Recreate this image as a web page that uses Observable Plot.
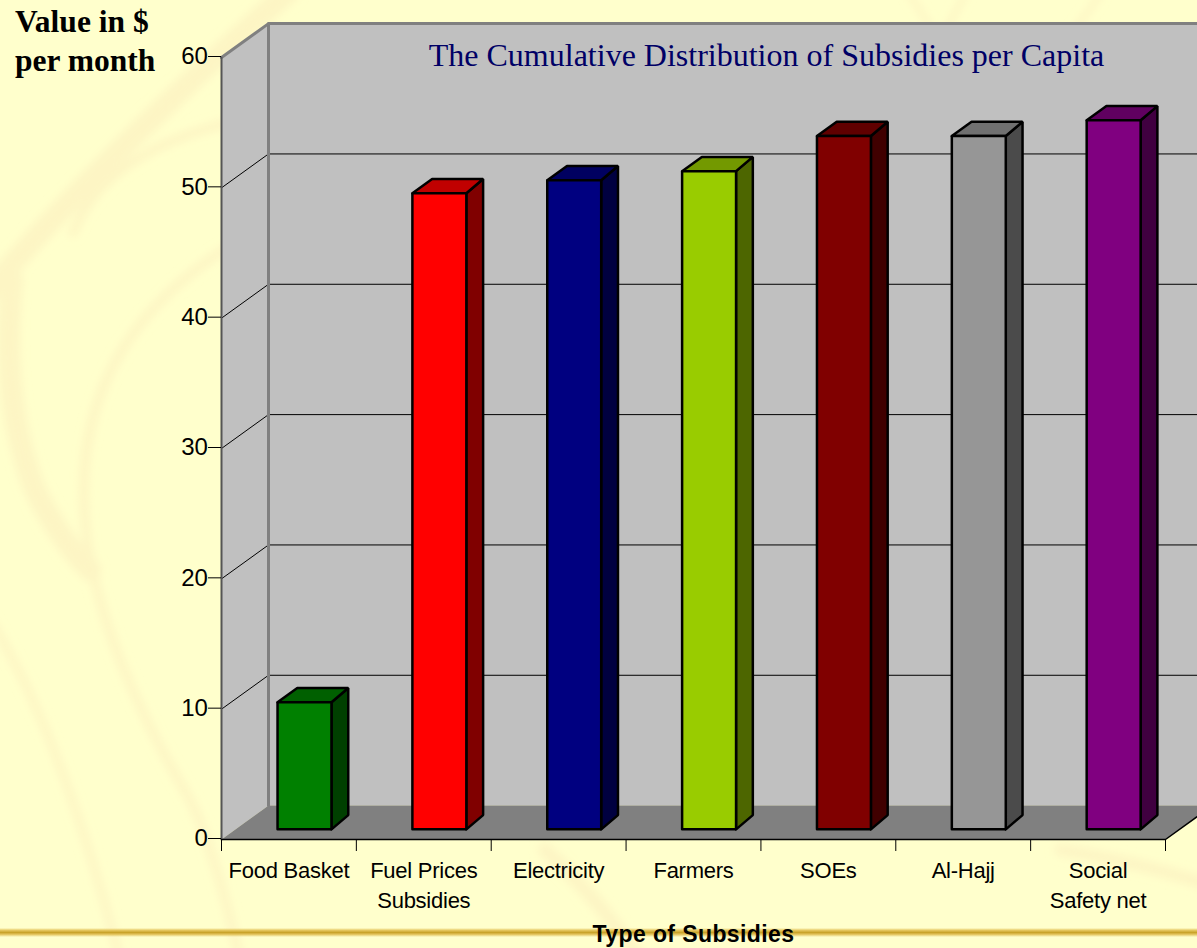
<!DOCTYPE html>
<html>
<head>
<meta charset="utf-8">
<title>The Cumulative Distribution of Subsidies per Capita</title>
<script src="https://cdn.jsdelivr.net/npm/d3@7"></script>
<script src="https://cdn.jsdelivr.net/npm/@observablehq/plot@0.6"></script>
<style>
  html, body { margin: 0; padding: 0; width: 1197px; height: 948px; overflow: hidden; background: #ffffcc; }
  #slide, #rule, #chart { position: absolute; left: 0; top: 0; }
  #rule { top: 928px; width: 1197px; height: 9px;
    background: linear-gradient(to bottom, rgba(220,180,60,0) 0%, #e6c860 25%, #c9a32a 50%, #e2c25a 70%, rgba(220,180,60,0) 100%); }
  #chart svg { background: transparent; overflow: hidden; }
  .tight text { letter-spacing: -0.25px; }
  .wide text { letter-spacing: 0.4px; }
</style>
</head>
<body>
<!-- faint sweeping arcs of the slide backdrop -->
<svg id="slide" width="1197" height="948" fill="none" stroke="#fdf5c4" stroke-linecap="round">
  <defs><filter id="soft" x="-20%" y="-20%" width="140%" height="140%"><feGaussianBlur stdDeviation="4"/></filter></defs>
  <g filter="url(#soft)">
    <path stroke-width="22" d="M-10 290 Q90 170 290 -10"/>
    <path stroke-width="22" d="M12 280 Q0 400 35 490 Q60 540 90 570"/>
    <path stroke-width="9" d="M240 240 Q70 340 85 520 Q95 640 190 800 Q215 850 240 960"/>
    <path stroke-width="8" d="M-10 620 Q60 730 120 960"/>
    <path stroke-width="9" d="M73 233 Q105 150 240 120"/>
    <path stroke-width="6" d="M910 -5 L945 50"/>
    <path stroke-width="6" d="M965 -5 L935 50"/>
    <path stroke-width="6" d="M1100 -5 L1060 50"/>
    <path stroke-width="14" d="M640 960 Q600 900 545 850"/>
    <path stroke-width="12" d="M1210 885 Q1130 860 1060 850"/>
  </g>
</svg>
<div id="rule"></div>
<div id="chart"></div>
<script>
// Chart values, in dollars per month
const categories = ["Food Basket", "Fuel Prices\nSubsidies", "Electricity", "Farmers", "SOEs", "Al-Hajj", "Social\nSafety net"];
const values = [9.75, 48.8, 49.8, 50.5, 53.2, 53.2, 54.4];
const frontColors = ["#008000", "#ff0000", "#000080", "#99cc00", "#800000", "#969696", "#800080"];
const sideColors = ["#004000", "#800000", "#000040", "#4d6600", "#400000", "#4b4b4b", "#400040"];
const topColors = ["#006000", "#c00000", "#000060", "#739900", "#600000", "#707070", "#600060"];
const yTicks = [0, 10, 20, 30, 40, 50, 60];

// Oblique projection: moving back through the box shifts a point right and up, in data units
const depthX = 0.3485;
const depthY = 2.6;
const nCats = categories.length;
const yMax = 60;
const at = (u, v, d = 0) => ({x: u + d * depthX, y: v + d * depthY});

// Closed polygon as rows for a filled line mark
let faceId = 0;
function face(corners, fill) {
  const id = faceId++;
  return [...corners, corners[0]].map((p) => ({...p, z: id, fill}));
}

const wallFill = "#c0c0c0", floorFill = "#808080";
const boxFaces = [
  ...face([at(0, 0), at(0, 0, 1), at(0, yMax, 1), at(0, yMax)], wallFill),
  ...face([at(0, 0, 1), at(nCats, 0, 1), at(nCats, yMax, 1), at(0, yMax, 1)], wallFill),
  ...face([at(0, 0), at(0, 0, 1), at(nCats, 0, 1), at(nCats, 0)], floorFill)
];

const gridLines = yTicks.filter((t) => t > 0 && t < yMax).flatMap((t) =>
  [at(0, t), at(0, t, 1), at(nCats, t, 1)].map((p) => ({...p, z: t})));

// Each column sits partway into the box: side face, top face, then front face
const gapU = 0.311, widthU = 0.4, frontD = 0.3, backD = 0.72, backNarrow = 0.022;
const barFaces = values.flatMap((v, i) => {
  const l = i + gapU, r = l + widthU, rb = r - backNarrow;
  return [
    ...face([at(r, 0, frontD), at(rb, 0, backD), at(rb, v, backD), at(r, v, frontD)], sideColors[i]),
    ...face([at(l, v, frontD), at(r, v, frontD), at(rb, v, backD), at(l, v, backD)], topColors[i]),
    ...face([at(l, 0, frontD), at(r, 0, frontD), at(r, v, frontD), at(l, v, frontD)], frontColors[i])
  ];
});

const serif = "'Liberation Serif', 'Times New Roman', serif";
const sans = "'Liberation Sans', Arial, sans-serif";
const marginLeft = 221, marginTop = 57;

const chart = Plot.plot({
  width: 1197,
  height: 948,
  marginLeft,
  marginRight: 32,
  marginTop,
  marginBottom: 109,
  style: {background: "transparent"},
  x: {domain: [0, nCats], axis: null},
  y: {domain: [0, yMax], axis: null},
  color: {type: "identity"},
  marks: [
    Plot.line(boxFaces, {x: "x", y: "y", z: "z", fill: "fill", stroke: null}),
    Plot.line(gridLines, {x: "x", y: "y", z: "z", stroke: "#000", strokeWidth: 1}),
    // Box edges
    Plot.line([at(0, yMax), at(0, yMax, 1), at(nCats, yMax, 1)], {x: "x", y: "y", stroke: "#808080", strokeWidth: 3}),
    Plot.line([at(0, 0, 1), at(0, yMax, 1)], {x: "x", y: "y", stroke: "#808080", strokeWidth: 3}),
    Plot.line([at(0, 0), at(0, yMax)], {x: "x", y: "y", stroke: "#555", strokeWidth: 2}),
    Plot.line([at(0, 0), at(nCats, 0), at(nCats, 0, 1)], {x: "x", y: "y", stroke: "#000", strokeWidth: 1.5}),
    Plot.line(barFaces, {x: "x", y: "y", z: "z", fill: "fill", stroke: "#000", strokeWidth: 2.5, strokeLinejoin: "miter"}),
    // Axes
    Plot.axisY({ticks: yTicks, tickSize: 13, tickPadding: 1, fontSize: 24, dy: -1, fontFamily: sans, fill: "#000", stroke: "#000", label: null, className: "tight"}),
    Plot.axisX({ticks: d3.range(nCats + 1), tickSize: 12, tickFormat: () => "", label: null, stroke: "#000"}),
    Plot.text(categories, {x: (d, i) => i + 0.5, y: 0, dy: 17, text: (d) => d, lineAnchor: "top", lineHeight: 1.36, fontSize: 22, fontFamily: sans, fill: "#000", className: "tight"}),
    Plot.text(["Type of Subsidies"], {x: nCats / 2, y: 0, dy: 95.5, fontSize: 23, fontWeight: "bold", fontFamily: sans, fill: "#000", className: "wide"}),
    // Title and unit note
    Plot.text(["The Cumulative Distribution of Subsidies per Capita"], {frameAnchor: "top-left", dx: 766 - marginLeft, dy: 55 - marginTop, textAnchor: "middle", lineAnchor: "middle", fontSize: 32, fontFamily: serif, fill: "#000066"}),
    Plot.text(["Value in $\nper month"], {frameAnchor: "top-left", dx: 14.5 - marginLeft, dy: 4 - marginTop, textAnchor: "start", lineAnchor: "top", lineHeight: 1.24, fontSize: 31.5, fontWeight: "bold", fontFamily: serif, fill: "#000"})
  ]
});
document.getElementById("chart").append(chart);
</script>
</body>
</html>
